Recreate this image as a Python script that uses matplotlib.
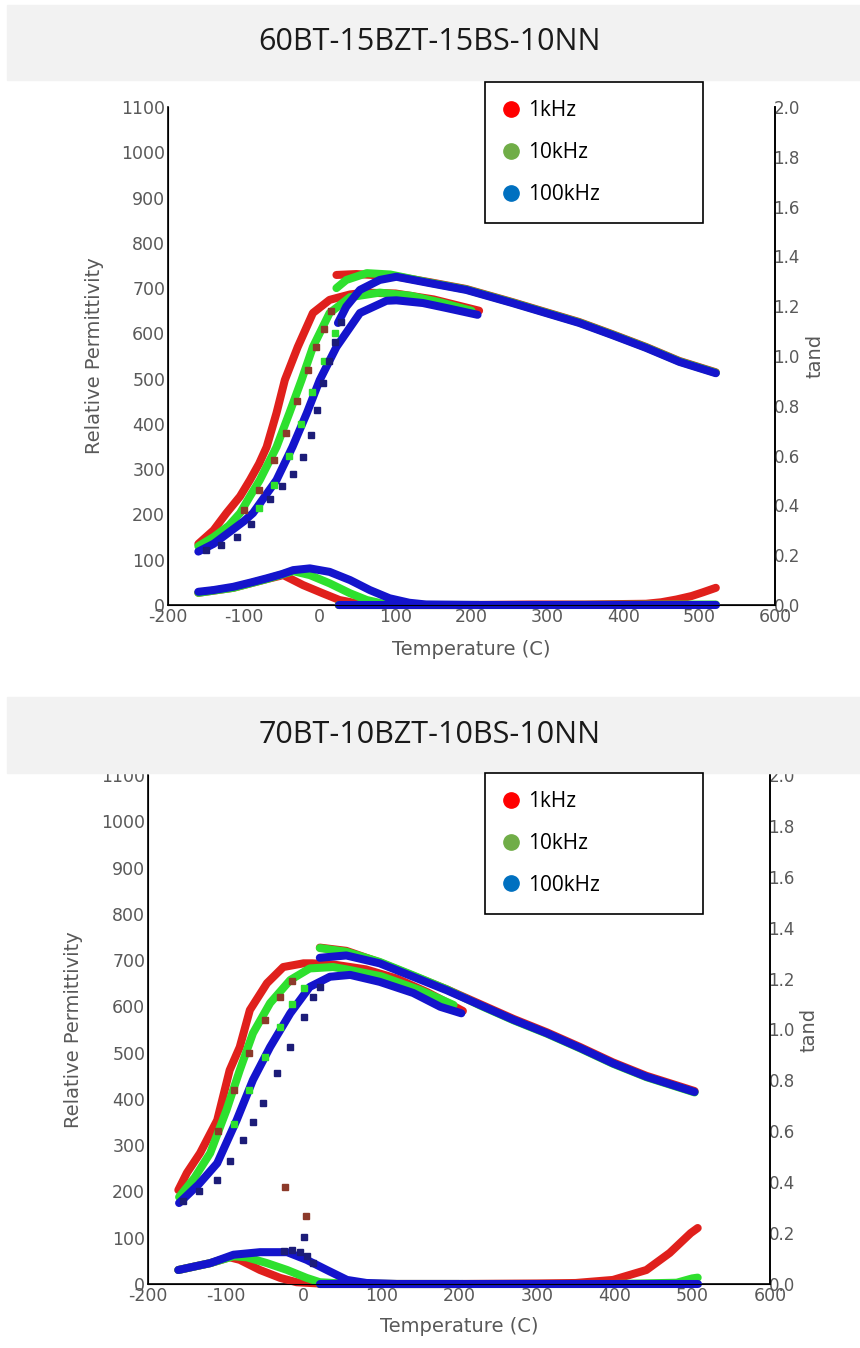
import matplotlib
matplotlib.use('Agg')
import numpy as np
import matplotlib.pyplot as plt
from matplotlib.lines import Line2D
from matplotlib.patches import Rectangle

plt.rcParams['axes.unicode_minus'] = False

# colours of the measured points and of the legend markers
RED, GREEN, BLUE, NAVY, BROWN = '#e0201c', '#2ee02e', '#1414cc', '#1c1c78', '#8c3a2a'
LEG_COLORS = ['#ff0000', '#70ad47', '#0070c0']
LEG_LABELS = ['1kHz', '10kHz', '100kHz']

# ---------------- panel 1 : 60BT-15BZT-15BS-10NN ----------------
p1_title = '60BT-15BZT-15BS-10NN'

# relative permittivity, low temperature run
p1_red_lo_t = [-160, -140, -123, -105, -92, -80, -70, -57, -46, -29, -9, 13, 40, 60, 100, 150, 210]
p1_red_lo_e = [135, 165, 203, 240, 276, 312, 349, 424, 497, 570, 645, 674, 686, 690, 688, 675, 650]
p1_grn_lo_t = [-160, -140, -120, -105, -92, -79, -57, -40, -24, -9, 13, 40, 79, 120, 160, 200]
p1_grn_lo_e = [130, 150, 175, 203, 240, 276, 349, 424, 497, 570, 645, 680, 690, 683, 668, 650]
p1_blu_lo_t = [-160, -140, -120, -100, -88, -57, -36, -17, 0, 22, 53, 88, 101, 136, 167, 208]
p1_blu_lo_e = [118, 135, 160, 185, 203, 276, 349, 424, 497, 570, 645, 672, 673, 667, 656, 641]
# relative permittivity, high temperature run
p1_red_hi_t = [22, 48, 80, 100, 145, 193, 254, 298, 342, 386, 430, 474, 522]
p1_red_hi_e = [729, 731, 728, 726, 713, 698, 669, 647, 625, 598, 570, 539, 514]
p1_grn_hi_t = [22, 35, 62, 93, 145, 193, 254, 298, 342, 386, 430, 474, 522]
p1_grn_hi_e = [700, 718, 733, 730, 712, 697, 668, 646, 624, 597, 569, 538, 513]
p1_blu_hi_t = [24, 35, 53, 79, 101, 145, 193, 254, 298, 342, 386, 430, 474, 522]
p1_blu_hi_e = [623, 659, 696, 718, 725, 711, 696, 667, 645, 623, 596, 568, 537, 512]
# sparse points on the rising edge
p1_navy_t = [-150, -130, -109, -90, -66, -50, -35, -22, -12, -4, 4, 12, 20, 28]
p1_navy_e = [122, 132, 150, 180, 235, 262, 290, 327, 375, 430, 490, 540, 580, 625]
p1_brown_t = [-100, -80, -60, -45, -30, -15, -5, 5, 15]
p1_brown_e = [210, 255, 320, 380, 450, 520, 570, 610, 650]
p1_gdot_t = [-80, -60, -40, -25, -10, 5, 20]
p1_gdot_e = [215, 265, 330, 400, 470, 540, 600]
# tan delta
p1_red_lo_tan_t = [-160, -114, -70, -48, -22, 4, 26, 48, 70, 120, 210]
p1_red_lo_tan = [0.049, 0.069, 0.104, 0.120, 0.080, 0.047, 0.020, 0.007, 0.002, 0.0, 0.0]
p1_grn_lo_tan_t = [-160, -114, -70, -35, -13, 13, 40, 62, 84, 110, 210]
p1_grn_lo_tan = [0.049, 0.069, 0.104, 0.136, 0.120, 0.087, 0.047, 0.020, 0.005, 0.0, 0.0]
p1_blu_lo_tan_t = [-160, -140, -114, -90, -70, -50, -35, -13, 13, 40, 66, 92, 118, 140, 210]
p1_blu_lo_tan = [0.053, 0.060, 0.073, 0.091, 0.107, 0.124, 0.140, 0.147, 0.133, 0.100, 0.060,
                 0.027, 0.009, 0.002, 0.0]
p1_red_hi_tan_t = [25, 100, 200, 280, 350, 430, 450, 470, 490, 505, 522]
p1_red_hi_tan = [0.0, 0.0, 0.0, 0.002, 0.002, 0.005, 0.011, 0.022, 0.036, 0.051, 0.069]
p1_grn_hi_tan_t = [25, 300, 522]
p1_grn_hi_tan = [0.0, 0.0, 0.002]
p1_blu_hi_tan_t = [25, 300, 522]
p1_blu_hi_tan = [0.0, 0.0, 0.0]

# ---------------- panel 2 : 70BT-10BZT-10BS-10NN ----------------
p2_title = '70BT-10BZT-10BS-10NN'

p2_red_lo_t = [-161, -150, -133, -111, -95, -82, -69, -47, -26, 0, 11, 40, 80, 120, 160, 205]
p2_red_lo_e = [203, 240, 283, 354, 462, 512, 592, 650, 685, 693, 693, 690, 680, 660, 630, 590]
p2_grn_lo_t = [-160, -140, -120, -99, -82, -65, -43, -17, 8, 38, 55, 100, 150, 193]
p2_grn_lo_e = [188, 230, 283, 376, 462, 542, 607, 657, 682, 685, 680, 665, 635, 603]
p2_blu_lo_t = [-160, -135, -111, -86, -65, -43, -17, 8, 34, 60, 98, 141, 176, 203]
p2_blu_lo_e = [175, 215, 261, 354, 441, 512, 585, 642, 664, 668, 653, 629, 599, 585]
p2_red_hi_t = [21, 55, 98, 141, 184, 227, 270, 313, 356, 398, 441, 503]
p2_red_hi_e = [727, 720, 695, 666, 637, 605, 573, 544, 512, 479, 450, 417]
p2_grn_hi_t = [21, 55, 98, 141, 184, 227, 270, 313, 356, 398, 441, 503]
p2_grn_hi_e = [726, 718, 696, 667, 637, 602, 570, 541, 509, 476, 447, 414]
p2_blu_hi_t = [21, 55, 98, 141, 184, 227, 270, 313, 356, 398, 441, 503]
p2_blu_hi_e = [705, 710, 693, 664, 635, 603, 571, 542, 510, 477, 448, 415]
p2_navy_t = [-155, -135, -111, -95, -78, -65, -52, -34, -17, 0, 12, 21]
p2_navy_e = [180, 200, 225, 265, 311, 350, 391, 456, 512, 577, 620, 642]
p2_brown_t = [-110, -90, -70, -50, -30, -15]
p2_brown_e = [330, 420, 500, 570, 620, 655]
p2_gdot_t = [-90, -70, -50, -30, -15, 0]
p2_gdot_e = [345, 420, 490, 555, 605, 640]

p2_red_lo_tan_t = [-161, -120, -95, -82, -56, -30, -9, 20, 120, 200]
p2_red_lo_tan = [0.055, 0.082, 0.105, 0.095, 0.055, 0.024, 0.007, 0.002, 0.0, 0.0]
p2_grn_lo_tan_t = [-161, -120, -90, -73, -47, -21, 4, 21, 50, 120, 200]
p2_grn_lo_tan = [0.055, 0.082, 0.109, 0.105, 0.082, 0.055, 0.024, 0.007, 0.002, 0.0, 0.0]
p2_blu_lo_tan_t = [-161, -140, -120, -90, -56, -21, 4, 30, 56, 81, 120, 205]
p2_blu_lo_tan = [0.055, 0.069, 0.082, 0.115, 0.125, 0.125, 0.095, 0.055, 0.016, 0.004, 0.0, 0.0]
p2_red_hi_tan_t = [21, 100, 200, 300, 350, 398, 441, 471, 498, 507]
p2_red_hi_tan = [0.0, 0.0, 0.0, 0.002, 0.004, 0.016, 0.055, 0.122, 0.200, 0.220]
p2_grn_hi_tan_t = [21, 200, 400, 480, 500, 507]
p2_grn_hi_tan = [0.0, 0.0, 0.0, 0.005, 0.022, 0.025]
p2_blu_hi_tan_t = [21, 300, 507]
p2_blu_hi_tan = [0.0, 0.0, 0.0]
p2_navy_tan_t = [-25, -15, -5, 5, 12]
p2_navy_tan = [0.131, 0.133, 0.127, 0.109, 0.082]
p2_red_out_t = [-24, 3]
p2_red_out = [0.382, 0.267]
p2_blu_out_t = [0]
p2_blu_out = [0.184]

TICK_C = '#595959'
TICK_FONT = 12.5


def band(ax, t, v, color, lw=5.8):
    ax.plot(t, v, color=color, lw=lw, solid_capstyle='round', solid_joinstyle='round', clip_on=False)


def dots(ax, t, v, color, ms=3.8):
    ax.plot(t, v, 's', color=color, ms=ms, ls='none', clip_on=False)


def setup_axes(rect, ylab_x, tand_x, xlab_y):
    ax = fig.add_axes(rect)
    ax.set_xlim(-200, 600)
    ax.set_ylim(0, 1100)
    ax.set_xticks(range(-200, 601, 100))
    ax.set_yticks(range(0, 1101, 100))
    ax.tick_params(length=0, pad=2, labelsize=TICK_FONT, labelcolor=TICK_C)
    for s in ['left', 'bottom', 'right']:
        ax.spines[s].set_linewidth(1.2)
        ax.spines[s].set_color('black')
    ax.spines['top'].set_visible(False)
    ax.set_ylabel('Relative Permittivity', fontsize=14, color=TICK_C)
    ax.yaxis.set_label_coords(ylab_x, 0.5)
    ax.set_xlabel('Temperature (C)', fontsize=14, color=TICK_C)
    ax.xaxis.set_label_coords(0.5, xlab_y)

    ax2 = ax.twinx()
    ax2.set_ylim(0, 2.0)
    ticks = np.arange(0, 2.01, 0.2)
    ax2.set_yticks(ticks)
    ax2.set_yticklabels(['{:.1f}'.format(v) for v in ticks])
    ax2.tick_params(length=0, pad=-1, labelsize=12, labelcolor=TICK_C)
    ax2.spines['top'].set_visible(False)
    ax2.spines['right'].set_linewidth(1.2)
    ax2.set_ylabel('tand', fontsize=14, color=TICK_C)
    ax2.yaxis.set_label_coords(tand_x, 0.5)
    return ax, ax2


def header(text, y_top, y_bot):
    H = 1348.0
    fig.add_artist(Rectangle((7 / 860, 1 - y_bot / H), 1 - 7 / 860, (y_bot - y_top) / H,
                             transform=fig.transFigure, color='#f2f2f2', zorder=5))
    fig.text(0.5, 1 - (y_top + y_bot) / 2 / H, text, ha='center', va='center',
             fontsize=22, family='Open Sans', color='#1a1a1a', zorder=6)


def legend(top_px):
    H = 1348.0
    handles = [Line2D([], [], ls='none', marker='o', ms=11, color=c) for c in LEG_COLORS]
    top = 1 - top_px / H
    leg = fig.legend(handles, LEG_LABELS, loc='upper left',
                     bbox_to_anchor=(485 / 860, top - 0.1, 218 / 860, 0.1),
                     bbox_transform=fig.transFigure, mode='expand', borderaxespad=0,
                     labelspacing=1.0, borderpad=0.87, handlelength=0.8,
                     handletextpad=0.4, fancybox=False, framealpha=1, edgecolor='black',
                     prop={'family': 'Open Sans', 'size': 15})
    leg.get_frame().set_linewidth(1.2)
    leg.set_zorder(7)


fig = plt.figure(figsize=(8.6, 13.48), dpi=100)

# ---- panel 1 ----
ax, ax2 = setup_axes([168 / 860, 1 - 605 / 1348, 607 / 860, 498 / 1348], -0.105, 1.05, -0.07)
band(ax, p1_red_lo_t, p1_red_lo_e, RED)
band(ax, p1_red_hi_t, p1_red_hi_e, RED)
band(ax, p1_grn_lo_t, p1_grn_lo_e, GREEN)
band(ax, p1_grn_hi_t, p1_grn_hi_e, GREEN)
band(ax, p1_blu_lo_t, p1_blu_lo_e, BLUE)
band(ax, p1_blu_hi_t, p1_blu_hi_e, BLUE)
dots(ax, p1_brown_t, p1_brown_e, BROWN)
dots(ax, p1_gdot_t, p1_gdot_e, GREEN)
dots(ax, p1_navy_t, p1_navy_e, NAVY)
band(ax2, p1_red_lo_tan_t, p1_red_lo_tan, RED)
band(ax2, p1_red_hi_tan_t, p1_red_hi_tan, RED)
band(ax2, p1_grn_lo_tan_t, p1_grn_lo_tan, GREEN)
band(ax2, p1_grn_hi_tan_t, p1_grn_hi_tan, GREEN)
band(ax2, p1_blu_lo_tan_t, p1_blu_lo_tan, BLUE)
band(ax2, p1_blu_hi_tan_t, p1_blu_hi_tan, BLUE)

# ---- panel 2 ----
ax, ax2 = setup_axes([148 / 860, 1 - 1284 / 1348, 622 / 860, 509 / 1348], -0.105, 1.048, -0.065)
band(ax, p2_red_lo_t, p2_red_lo_e, RED)
band(ax, p2_red_hi_t, p2_red_hi_e, RED)
band(ax, p2_grn_lo_t, p2_grn_lo_e, GREEN)
band(ax, p2_grn_hi_t, p2_grn_hi_e, GREEN)
band(ax, p2_blu_lo_t, p2_blu_lo_e, BLUE)
band(ax, p2_blu_hi_t, p2_blu_hi_e, BLUE)
dots(ax, p2_brown_t, p2_brown_e, BROWN)
dots(ax, p2_gdot_t, p2_gdot_e, GREEN)
dots(ax, p2_navy_t, p2_navy_e, NAVY)
band(ax2, p2_red_lo_tan_t, p2_red_lo_tan, RED)
band(ax2, p2_red_hi_tan_t, p2_red_hi_tan, RED)
band(ax2, p2_grn_lo_tan_t, p2_grn_lo_tan, GREEN)
band(ax2, p2_grn_hi_tan_t, p2_grn_hi_tan, GREEN)
band(ax2, p2_blu_lo_tan_t, p2_blu_lo_tan, BLUE)
band(ax2, p2_blu_hi_tan_t, p2_blu_hi_tan, BLUE)
dots(ax2, p2_navy_tan_t, p2_navy_tan, NAVY)
dots(ax2, p2_red_out_t, p2_red_out, BROWN, ms=4.5)
dots(ax2, p2_blu_out_t, p2_blu_out, NAVY, ms=4.5)

header(p1_title, 5, 80)
header(p2_title, 697, 773)
legend(82)
legend(773)

fig.savefig('out.png', dpi=100, facecolor='white')
